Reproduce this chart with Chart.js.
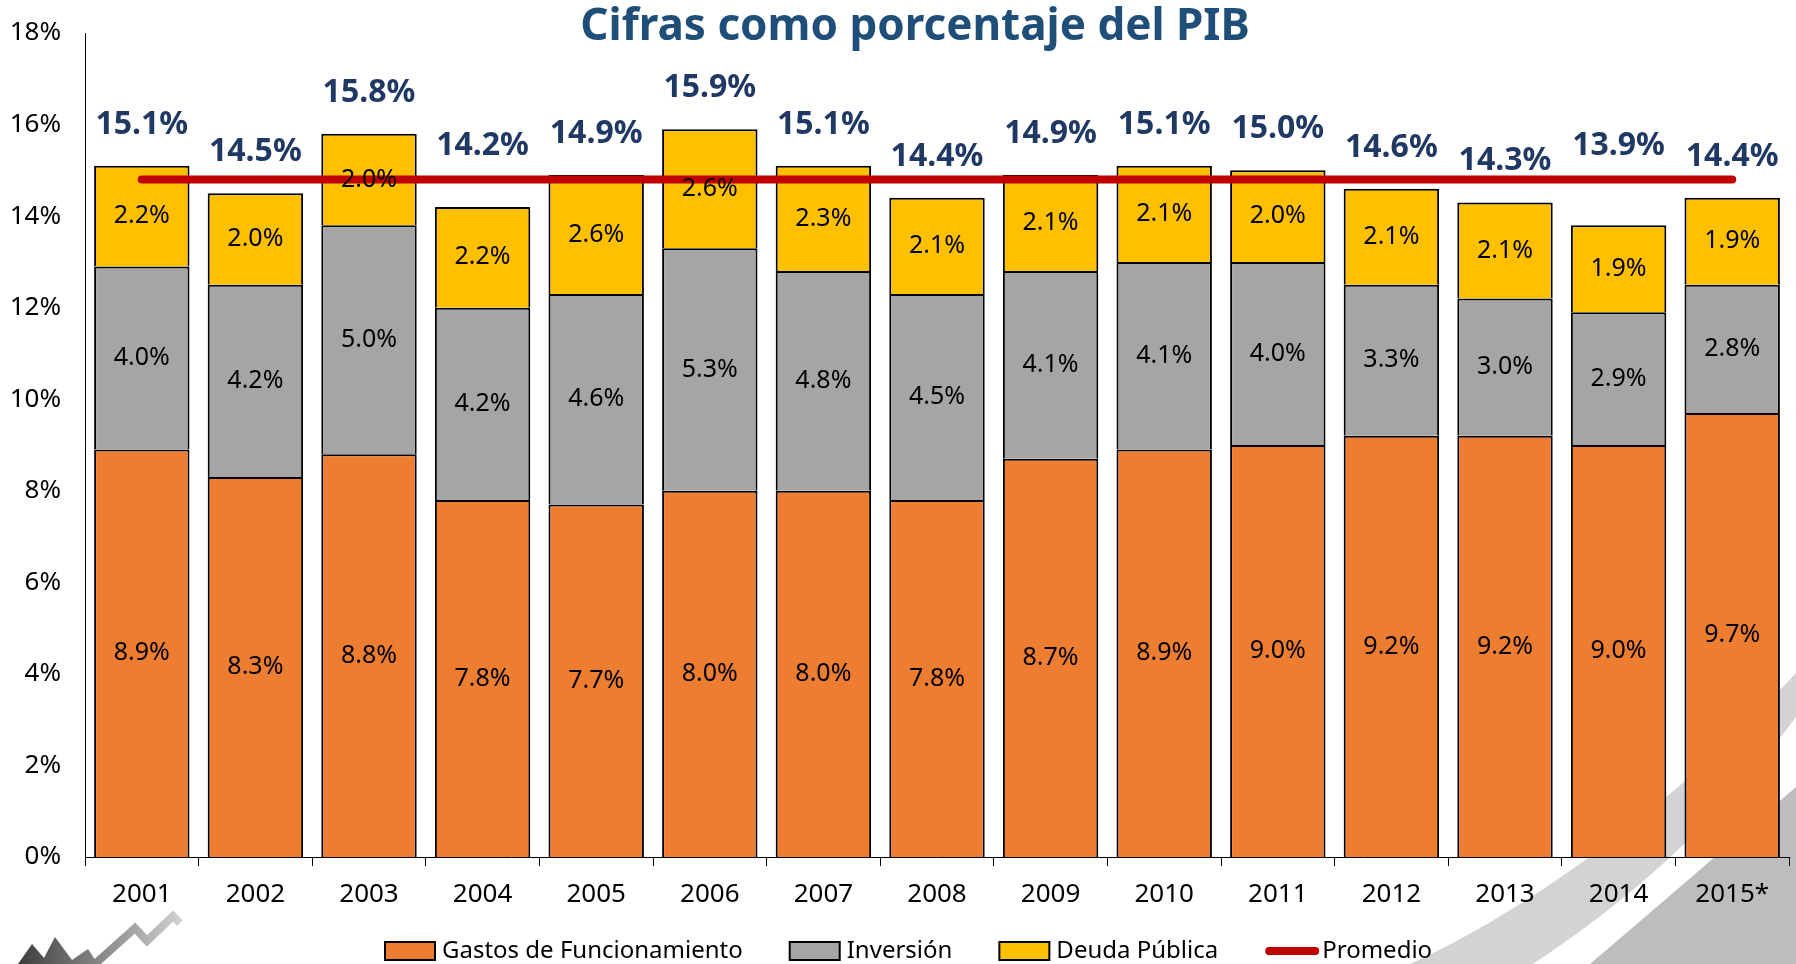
<!DOCTYPE html>
<html>
<head>
<meta charset="utf-8">
<script src="https://cdn.jsdelivr.net/npm/chart.js@4.4.1/dist/chart.umd.min.js"></script>
<style>
  html, body { margin: 0; padding: 0; background: #fff; }
  #wrap { position: relative; width: 1796px; height: 964px; }
</style>
</head>
<body>
<div id="wrap"><canvas id="chart" width="1796" height="964"></canvas></div>
<script>
const years = ["2001", "2002", "2003", "2004", "2005", "2006", "2007", "2008", "2009", "2010", "2011", "2012", "2013", "2014", "2015*"];
const gastos = [8.9, 8.3, 8.8, 7.8, 7.7, 8.0, 8.0, 7.8, 8.7, 8.9, 9.0, 9.2, 9.2, 9.0, 9.7];
const inversion = [4.0, 4.2, 5.0, 4.2, 4.6, 5.3, 4.8, 4.5, 4.1, 4.1, 4.0, 3.3, 3.0, 2.9, 2.8];
const deuda = [2.2, 2.0, 2.0, 2.2, 2.6, 2.6, 2.3, 2.1, 2.1, 2.1, 2.0, 2.1, 2.1, 1.9, 1.9];
const totales = [15.1, 14.5, 15.8, 14.2, 14.9, 15.9, 15.1, 14.4, 14.9, 15.1, 15.0, 14.6, 14.3, 13.9, 14.4];
const promedio = [14.8, 14.8, 14.8, 14.8, 14.8, 14.8, 14.8, 14.8, 14.8, 14.8, 14.8, 14.8, 14.8, 14.8, 14.8];
const yTicks = [0, 2, 4, 6, 8, 10, 12, 14, 16, 18];

const FONT = '"Noto Sans", sans-serif';

// grey swoosh bottom right + small logo bottom left (background decoration)
const backdrop = {
  id: "backdrop",
  beforeDraw(chart) {
    const ctx = chart.ctx;
    ctx.save();
    ctx.fillStyle = "#D3D3D5";
    ctx.beginPath();
    ctx.moveTo(1410, 964);
    ctx.bezierCurveTo(1530, 910, 1680, 800, 1796, 673);
    ctx.lineTo(1796, 717);
    ctx.bezierCurveTo(1720, 820, 1630, 900, 1533, 964);
    ctx.closePath();
    ctx.fill();
    ctx.fillStyle = "#BDBDC0";
    ctx.beginPath();
    ctx.moveTo(1590, 964);
    ctx.quadraticCurveTo(1700, 870, 1796, 787);
    ctx.lineTo(1796, 964);
    ctx.closePath();
    ctx.fill();

    const g = ctx.createLinearGradient(15, 0, 180, 0);
    g.addColorStop(0, "#3a3a3a");
    g.addColorStop(1, "#d0d0d0");
    ctx.fillStyle = g;
    ctx.beginPath();
    ctx.moveTo(18, 964);
    ctx.lineTo(32, 944);
    ctx.lineTo(44, 958);
    ctx.lineTo(55, 937);
    ctx.lineTo(72, 960);
    ctx.lineTo(88, 949);
    ctx.lineTo(98, 964);
    ctx.closePath();
    ctx.fill();
    ctx.strokeStyle = g;
    ctx.lineWidth = 8;
    ctx.beginPath();
    ctx.moveTo(95, 964);
    ctx.lineTo(135, 928);
    ctx.lineTo(147, 941);
    ctx.lineTo(173, 916);
    ctx.lineTo(180, 923);
    ctx.stroke();
    ctx.restore();
  }
};

// labels inside each stacked segment, bold totals, title and legend
const labelsPlugin = {
  id: "labelsPlugin",
  afterDraw(chart) {
    const ctx = chart.ctx;
    const x = chart.scales.x, y = chart.scales.y;
    ctx.save();
    ctx.textAlign = "center";
    ctx.textBaseline = "middle";
    ctx.fillStyle = "#000";
    ctx.font = "25px " + FONT;
    [0, 1, 2].forEach(di => {
      const meta = chart.getDatasetMeta(di);
      meta.data.forEach((bar, i) => {
        const c = bar.getCenterPoint();
        const v = chart.data.datasets[di].data[i];
        ctx.fillText(v.toFixed(1) + "%", c.x, c.y);
      });
    });

    ctx.fillStyle = "#1F3864";
    ctx.font = "bold 32px " + FONT;
    totales.forEach((t, i) => {
      const lineY = y.getPixelForValue(promedio[i]);
      let ly = y.getPixelForValue(t) - 41;
      if (Math.abs(ly - lineY) < 16) ly = lineY - 34;
      ctx.fillText(t.toFixed(1) + "%", x.getPixelForValue(i), ly);
    });

    ctx.fillStyle = "#1F4E79";
    ctx.font = "bold 44px " + FONT;
    ctx.fillText("Cifras como porcentaje del PIB", 915, 27);

    // legend
    ctx.font = "24px " + FONT;
    ctx.textAlign = "left";
    let lx = 385;
    const ly = 951;
    chart.data.datasets.forEach(ds => {
      if (ds.type === "line") {
        ctx.strokeStyle = ds.borderColor;
        ctx.lineWidth = 8;
        ctx.lineCap = "round";
        ctx.beginPath();
        ctx.moveTo(lx + 4, ly);
        ctx.lineTo(lx + 50, ly);
        ctx.stroke();
      } else {
        ctx.fillStyle = ds.backgroundColor;
        ctx.fillRect(lx, ly - 9, 50, 18);
        ctx.strokeStyle = "#000";
        ctx.lineWidth = 2;
        ctx.strokeRect(lx, ly - 9, 50, 18);
      }
      ctx.fillStyle = "#000";
      ctx.fillText(ds.label, lx + 57, ly);
      lx += 57 + ctx.measureText(ds.label).width + 47;
    });
    ctx.restore();
  }
};

new Chart(document.getElementById("chart"), {
  data: {
    labels: years,
    datasets: [
      { type: "bar", label: "Gastos de Funcionamiento", data: gastos, backgroundColor: "#ED7D31", borderColor: "#000", borderWidth: 2, order: 1 },
      { type: "bar", label: "Inversión", data: inversion, backgroundColor: "#A5A5A5", borderColor: "#000", borderWidth: 2, order: 1 },
      { type: "bar", label: "Deuda Pública", data: deuda, backgroundColor: "#FFC000", borderColor: "#000", borderWidth: 2, order: 1 },
      { type: "line", label: "Promedio", data: promedio, borderColor: "#C00000", backgroundColor: "#C00000", borderWidth: 8, borderCapStyle: "round", pointRadius: 0, order: 0 }
    ]
  },
  options: {
    responsive: false,
    animation: false,
    barPercentage: 0.84,
    categoryPercentage: 1,
    layout: { padding: { top: 33, right: 7, left: 0, bottom: 47 } },
    scales: {
      x: {
        stacked: true,
        offset: true,
        grid: { display: true, drawOnChartArea: false, offset: true, color: "#000", tickLength: 9 },
        border: { display: true, color: "#000", width: 1 },
        ticks: { color: "#000", font: { size: 26, family: FONT }, padding: 13 },
        afterFit(scale) { scale.height = 60; }
      },
      y: {
        stacked: true,
        min: 0,
        max: 18,
        afterBuildTicks(scale) { scale.ticks = yTicks.map(v => ({ value: v })); },
        grid: { display: false },
        border: { display: true, color: "#000", width: 1 },
        ticks: { color: "#000", font: { size: 26, family: FONT }, padding: 16, callback: v => v + "%" },
        afterFit(scale) { scale.width = 85; }
      }
    },
    plugins: {
      tooltip: { enabled: false },
      legend: { display: false }
    }
  },
  plugins: [backdrop, labelsPlugin]
});
</script>
</body>
</html>
